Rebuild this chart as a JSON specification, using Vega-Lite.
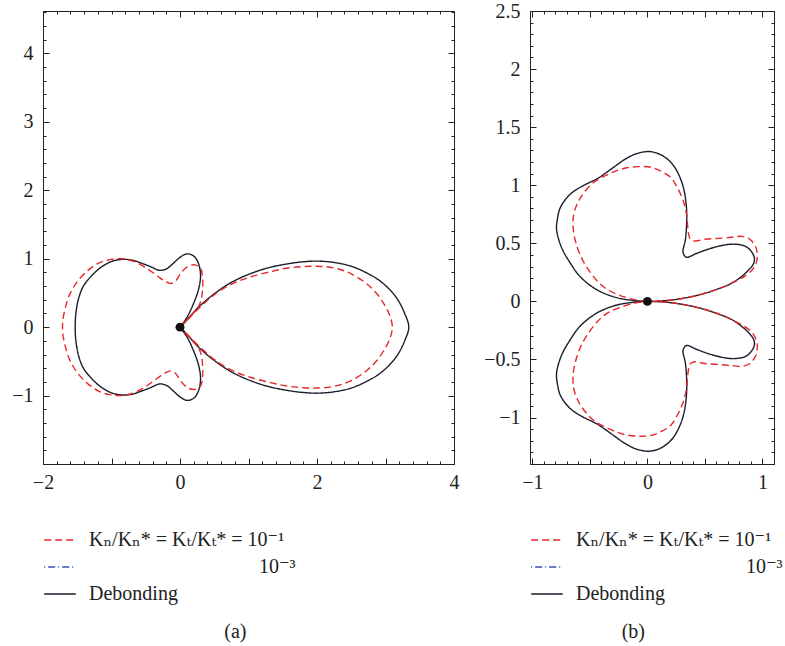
{
  "$schema": "https://vega.github.io/schema/vega-lite/v6.json",
  "background": "white",
  "padding": {"left": 11, "top": 0, "right": 0, "bottom": 0},
  "bounds": "flush",
  "spacing": 76,
  "config": {
    "view": {"stroke": "#222", "strokeWidth": 1},
    "axis": {"labelFont": "'Liberation Serif', 'DejaVu Serif', serif", "labelFontSize": 20, "labelColor": "#222", "domainColor": "#222", "tickColor": "#222", "grid": false, "labelOverlap": false, "labelFlush": false, "format": "~g"},
    "title": {"font": "'Liberation Serif', 'DejaVu Serif', serif", "fontSize": 20, "fontWeight": "normal", "color": "#222"}
  },
  "resolve": {"scale": {"color": "independent", "strokeDash": "independent"}},
  "hconcat": [
    {
      "width": 411,
      "height": 453,
      "title": {"text": "(a)", "orient": "bottom", "offset": 18, "anchor": "middle", "frame": "bounds"},
      "layer": [
        {
          "data": {"values": [
            {"case":"deb","i":0,"x":0,"y":0},{"case":"deb","i":1,"x":0.08,"y":0.08},{"case":"deb","i":2,"x":0.3,"y":0.32},{"case":"deb","i":3,"x":0.6,"y":0.56},{"case":"deb","i":4,"x":0.8,"y":0.68},{"case":"deb","i":5,"x":1.05,"y":0.79},{"case":"deb","i":6,"x":1.3,"y":0.87},{"case":"deb","i":7,"x":1.57,"y":0.925},{"case":"deb","i":8,"x":1.8,"y":0.955},{"case":"deb","i":9,"x":2.0,"y":0.965},{"case":"deb","i":10,"x":2.25,"y":0.945},{"case":"deb","i":11,"x":2.5,"y":0.89},{"case":"deb","i":12,"x":2.73,"y":0.79},{"case":"deb","i":13,"x":2.9,"y":0.69},{"case":"deb","i":14,"x":3.05,"y":0.56},{"case":"deb","i":15,"x":3.18,"y":0.4},{"case":"deb","i":16,"x":3.28,"y":0.2},{"case":"deb","i":17,"x":3.34,"y":0},
            {"case":"deb","i":18,"x":3.28,"y":-0.2},{"case":"deb","i":19,"x":3.18,"y":-0.4},{"case":"deb","i":20,"x":3.05,"y":-0.56},{"case":"deb","i":21,"x":2.9,"y":-0.69},{"case":"deb","i":22,"x":2.73,"y":-0.79},{"case":"deb","i":23,"x":2.5,"y":-0.89},{"case":"deb","i":24,"x":2.25,"y":-0.945},{"case":"deb","i":25,"x":2.0,"y":-0.965},{"case":"deb","i":26,"x":1.8,"y":-0.955},{"case":"deb","i":27,"x":1.57,"y":-0.925},{"case":"deb","i":28,"x":1.3,"y":-0.87},{"case":"deb","i":29,"x":1.05,"y":-0.79},{"case":"deb","i":30,"x":0.8,"y":-0.68},{"case":"deb","i":31,"x":0.6,"y":-0.56},{"case":"deb","i":32,"x":0.3,"y":-0.32},{"case":"deb","i":33,"x":0.08,"y":-0.08},{"case":"deb","i":34,"x":0,"y":0},
            {"case":"deb","i":35,"x":0.1,"y":-0.14},{"case":"deb","i":36,"x":0.2,"y":-0.35},{"case":"deb","i":37,"x":0.27,"y":-0.55},{"case":"deb","i":38,"x":0.3,"y":-0.75},{"case":"deb","i":39,"x":0.27,"y":-0.93},{"case":"deb","i":40,"x":0.2,"y":-1.04},{"case":"deb","i":41,"x":0.1,"y":-1.07},{"case":"deb","i":42,"x":0,"y":-1.02},{"case":"deb","i":43,"x":-0.1,"y":-0.93},{"case":"deb","i":44,"x":-0.2,"y":-0.85},{"case":"deb","i":45,"x":-0.3,"y":-0.83},{"case":"deb","i":46,"x":-0.42,"y":-0.88},{"case":"deb","i":47,"x":-0.55,"y":-0.93},{"case":"deb","i":48,"x":-0.7,"y":-0.98},{"case":"deb","i":49,"x":-0.85,"y":-0.99},{"case":"deb","i":50,"x":-1.0,"y":-0.96},{"case":"deb","i":51,"x":-1.16,"y":-0.87},{"case":"deb","i":52,"x":-1.3,"y":-0.74},{"case":"deb","i":53,"x":-1.41,"y":-0.6},{"case":"deb","i":54,"x":-1.48,"y":-0.42},{"case":"deb","i":55,"x":-1.52,"y":-0.2},{"case":"deb","i":56,"x":-1.53,"y":0},
            {"case":"deb","i":57,"x":-1.52,"y":0.2},{"case":"deb","i":58,"x":-1.48,"y":0.42},{"case":"deb","i":59,"x":-1.41,"y":0.6},{"case":"deb","i":60,"x":-1.3,"y":0.74},{"case":"deb","i":61,"x":-1.16,"y":0.87},{"case":"deb","i":62,"x":-1.0,"y":0.96},{"case":"deb","i":63,"x":-0.85,"y":0.99},{"case":"deb","i":64,"x":-0.7,"y":0.98},{"case":"deb","i":65,"x":-0.55,"y":0.93},{"case":"deb","i":66,"x":-0.42,"y":0.88},{"case":"deb","i":67,"x":-0.3,"y":0.83},{"case":"deb","i":68,"x":-0.2,"y":0.85},{"case":"deb","i":69,"x":-0.1,"y":0.93},{"case":"deb","i":70,"x":0,"y":1.02},{"case":"deb","i":71,"x":0.1,"y":1.07},{"case":"deb","i":72,"x":0.2,"y":1.04},{"case":"deb","i":73,"x":0.27,"y":0.93},{"case":"deb","i":74,"x":0.3,"y":0.75},{"case":"deb","i":75,"x":0.27,"y":0.55},{"case":"deb","i":76,"x":0.2,"y":0.35},{"case":"deb","i":77,"x":0.1,"y":0.14},{"case":"deb","i":78,"x":0,"y":0},
            {"case":"r1","i":0,"x":0,"y":0},{"case":"r1","i":1,"x":0.12,"y":0.12},{"case":"r1","i":2,"x":0.3,"y":0.3},{"case":"r1","i":3,"x":0.55,"y":0.51},{"case":"r1","i":4,"x":0.8,"y":0.65},{"case":"r1","i":5,"x":1.05,"y":0.74},{"case":"r1","i":6,"x":1.32,"y":0.81},{"case":"r1","i":7,"x":1.55,"y":0.86},{"case":"r1","i":8,"x":1.8,"y":0.885},{"case":"r1","i":9,"x":2.0,"y":0.89},{"case":"r1","i":10,"x":2.25,"y":0.865},{"case":"r1","i":11,"x":2.5,"y":0.78},{"case":"r1","i":12,"x":2.73,"y":0.63},{"case":"r1","i":13,"x":2.88,"y":0.48},{"case":"r1","i":14,"x":3.0,"y":0.3},{"case":"r1","i":15,"x":3.07,"y":0.15},{"case":"r1","i":16,"x":3.1,"y":0},
            {"case":"r1","i":17,"x":3.07,"y":-0.15},{"case":"r1","i":18,"x":3.0,"y":-0.3},{"case":"r1","i":19,"x":2.88,"y":-0.48},{"case":"r1","i":20,"x":2.73,"y":-0.63},{"case":"r1","i":21,"x":2.5,"y":-0.78},{"case":"r1","i":22,"x":2.25,"y":-0.865},{"case":"r1","i":23,"x":2.0,"y":-0.89},{"case":"r1","i":24,"x":1.8,"y":-0.885},{"case":"r1","i":25,"x":1.55,"y":-0.86},{"case":"r1","i":26,"x":1.32,"y":-0.81},{"case":"r1","i":27,"x":1.05,"y":-0.74},{"case":"r1","i":28,"x":0.8,"y":-0.65},{"case":"r1","i":29,"x":0.55,"y":-0.51},{"case":"r1","i":30,"x":0.3,"y":-0.3},{"case":"r1","i":31,"x":0.12,"y":-0.12},{"case":"r1","i":32,"x":0,"y":0},
            {"case":"r1","i":33,"x":0.12,"y":-0.13},{"case":"r1","i":34,"x":0.25,"y":-0.27},{"case":"r1","i":35,"x":0.31,"y":-0.4},{"case":"r1","i":36,"x":0.33,"y":-0.57},{"case":"r1","i":37,"x":0.33,"y":-0.73},{"case":"r1","i":38,"x":0.3,"y":-0.86},{"case":"r1","i":39,"x":0.22,"y":-0.91},{"case":"r1","i":40,"x":0.12,"y":-0.89},{"case":"r1","i":41,"x":0.02,"y":-0.8},{"case":"r1","i":42,"x":-0.06,"y":-0.68},{"case":"r1","i":43,"x":-0.13,"y":-0.64},{"case":"r1","i":44,"x":-0.22,"y":-0.67},{"case":"r1","i":45,"x":-0.32,"y":-0.74},{"case":"r1","i":46,"x":-0.43,"y":-0.82},{"case":"r1","i":47,"x":-0.55,"y":-0.9},{"case":"r1","i":48,"x":-0.7,"y":-0.97},{"case":"r1","i":49,"x":-0.85,"y":-1.0},{"case":"r1","i":50,"x":-1.01,"y":-0.99},{"case":"r1","i":51,"x":-1.18,"y":-0.94},{"case":"r1","i":52,"x":-1.33,"y":-0.84},{"case":"r1","i":53,"x":-1.48,"y":-0.69},{"case":"r1","i":54,"x":-1.6,"y":-0.5},{"case":"r1","i":55,"x":-1.67,"y":-0.3},{"case":"r1","i":56,"x":-1.71,"y":-0.1},{"case":"r1","i":57,"x":-1.715,"y":0},
            {"case":"r1","i":58,"x":-1.71,"y":0.1},{"case":"r1","i":59,"x":-1.67,"y":0.3},{"case":"r1","i":60,"x":-1.6,"y":0.5},{"case":"r1","i":61,"x":-1.48,"y":0.69},{"case":"r1","i":62,"x":-1.33,"y":0.84},{"case":"r1","i":63,"x":-1.18,"y":0.94},{"case":"r1","i":64,"x":-1.01,"y":0.99},{"case":"r1","i":65,"x":-0.85,"y":1.0},{"case":"r1","i":66,"x":-0.7,"y":0.97},{"case":"r1","i":67,"x":-0.55,"y":0.9},{"case":"r1","i":68,"x":-0.43,"y":0.82},{"case":"r1","i":69,"x":-0.32,"y":0.74},{"case":"r1","i":70,"x":-0.22,"y":0.67},{"case":"r1","i":71,"x":-0.13,"y":0.64},{"case":"r1","i":72,"x":-0.06,"y":0.68},{"case":"r1","i":73,"x":0.02,"y":0.8},{"case":"r1","i":74,"x":0.12,"y":0.89},{"case":"r1","i":75,"x":0.22,"y":0.91},{"case":"r1","i":76,"x":0.3,"y":0.86},{"case":"r1","i":77,"x":0.33,"y":0.73},{"case":"r1","i":78,"x":0.33,"y":0.57},{"case":"r1","i":79,"x":0.31,"y":0.4},{"case":"r1","i":80,"x":0.25,"y":0.27},{"case":"r1","i":81,"x":0.12,"y":0.13},{"case":"r1","i":82,"x":0,"y":0}
          ]},
          "mark": {"type": "line", "strokeWidth": 1.4, "interpolate": "catmull-rom"},
          "encoding": {
            "x": {"field": "x", "type": "quantitative", "scale": {"domain": [-2, 4], "nice": false, "zero": false},
                  "axis": {"title": null, "orient": "bottom", "values": [-2,-1.8,-1.6,-1.4,-1.2,-1,-0.8,-0.6,-0.4,-0.2,0,0.2,0.4,0.6,0.8,1,1.2,1.4,1.6,1.8,2,2.2,2.4,2.6,2.8,3,3.2,3.4,3.6,3.8,4],
                           "labelExpr": "datum.value % 2 === 0 ? datum.label : ''",
                           "tickSize": {"condition": {"test": "datum.value % 1 === 0", "value": -6}, "value": -3}, "labelPadding": 14}},
            "y": {"field": "y", "type": "quantitative", "scale": {"domain": [-2, 4.62], "nice": false, "zero": false},
                  "axis": {"title": null, "orient": "left", "values": [-1.8,-1.6,-1.4,-1.2,-1,-0.8,-0.6,-0.4,-0.2,0,0.2,0.4,0.6,0.8,1,1.2,1.4,1.6,1.8,2,2.2,2.4,2.6,2.8,3,3.2,3.4,3.6,3.8,4,4.2,4.4,4.6],
                           "labelExpr": "datum.value % 1 === 0 ? datum.label : ''",
                           "tickSize": {"condition": {"test": "datum.value % 1 === 0", "value": -6}, "value": -3}, "labelPadding": 16}},
            "order": {"field": "i", "type": "quantitative"},
            "color": {"field": "case", "type": "nominal",
                      "scale": {"domain": ["r1", "r3", "deb"], "range": ["#e8262a", "#3a4fb4", "#1b1d2b"]},
                      "legend": {"title": null, "orient": "none", "legendX": 0, "legendY": 512, "symbolType": "stroke", "symbolSize": 1000, "symbolStrokeWidth": 1.5, "labelFont": "'Liberation Serif', 'DejaVu Serif', serif", "labelFontSize": 20, "labelColor": "#222", "labelLimit": 500, "labelOffset": 12, "rowPadding": 0,
                                 "labelExpr": "datum.value === 'r1' ? 'Kₙ/Kₙ* = Kₜ/Kₜ* = 10⁻¹' : datum.value === 'r3' ? '10⁻³' : 'Debonding'",
                                 "encode": {"labels": {"update": {"dx": {"signal": "datum.value === 'r3' ? 170 : 0"}}}}}},
            "strokeDash": {"field": "case", "type": "nominal",
                      "scale": {"domain": ["r1", "r3", "deb"], "range": [[7, 4], [1, 3, 7, 3], [1, 0]]},
                      "legend": {"title": null, "orient": "none", "legendX": 0, "legendY": 512, "symbolType": "stroke", "symbolSize": 1000, "symbolStrokeWidth": 1.5, "labelFont": "'Liberation Serif', 'DejaVu Serif', serif", "labelFontSize": 20, "labelColor": "#222", "labelLimit": 500, "labelOffset": 12, "rowPadding": 0,
                                 "labelExpr": "datum.value === 'r1' ? 'Kₙ/Kₙ* = Kₜ/Kₜ* = 10⁻¹' : datum.value === 'r3' ? '10⁻³' : 'Debonding'",
                                 "encode": {"labels": {"update": {"dx": {"signal": "datum.value === 'r3' ? 170 : 0"}}}}}}
          }
        },
        {
          "data": {"values": [{"x": 0, "y": 0}]},
          "mark": {"type": "point", "filled": true, "size": 80, "color": "#111", "opacity": 1},
          "encoding": {
            "x": {"field": "x", "type": "quantitative",
                  "axis": {"title": null, "orient": "top", "labels": false, "values": [-2,-1.8,-1.6,-1.4,-1.2,-1,-0.8,-0.6,-0.4,-0.2,0,0.2,0.4,0.6,0.8,1,1.2,1.4,1.6,1.8,2,2.2,2.4,2.6,2.8,3,3.2,3.4,3.6,3.8,4],
                           "tickSize": {"condition": {"test": "datum.value % 2 === 0", "value": -6}, "value": -3}}},
            "y": {"field": "y", "type": "quantitative",
                  "axis": {"title": null, "orient": "right", "labels": false, "values": [-1.8,-1.6,-1.4,-1.2,-1,-0.8,-0.6,-0.4,-0.2,0,0.2,0.4,0.6,0.8,1,1.2,1.4,1.6,1.8,2,2.2,2.4,2.6,2.8,3,3.2,3.4,3.6,3.8,4,4.2,4.4,4.6],
                           "tickSize": {"condition": {"test": "datum.value % 1 === 0", "value": -6}, "value": -3}}}
          }
        }
      ],
      "resolve": {"axis": {"x": "independent", "y": "independent"}}
    },
    {
      "width": 244,
      "height": 453,
      "title": {"text": "(b)", "orient": "bottom", "offset": 18, "anchor": "middle", "frame": "bounds"},
      "layer": [
        {
          "data": {"values": [
            {"case":"deb","i":0,"x":0,"y":0},{"case":"deb","i":1,"x":-0.12,"y":0.008},{"case":"deb","i":2,"x":-0.26,"y":0.03},{"case":"deb","i":3,"x":-0.4,"y":0.08},{"case":"deb","i":4,"x":-0.5,"y":0.14},{"case":"deb","i":5,"x":-0.6,"y":0.23},{"case":"deb","i":6,"x":-0.67,"y":0.33},{"case":"deb","i":7,"x":-0.73,"y":0.43},{"case":"deb","i":8,"x":-0.77,"y":0.53},{"case":"deb","i":9,"x":-0.79,"y":0.63},{"case":"deb","i":10,"x":-0.78,"y":0.72},{"case":"deb","i":11,"x":-0.76,"y":0.8},{"case":"deb","i":12,"x":-0.71,"y":0.88},{"case":"deb","i":13,"x":-0.65,"y":0.94},{"case":"deb","i":14,"x":-0.55,"y":1.0},{"case":"deb","i":15,"x":-0.43,"y":1.06},{"case":"deb","i":16,"x":-0.3,"y":1.15},{"case":"deb","i":17,"x":-0.2,"y":1.22},{"case":"deb","i":18,"x":-0.1,"y":1.27},{"case":"deb","i":19,"x":0.01,"y":1.29},{"case":"deb","i":20,"x":0.1,"y":1.27},{"case":"deb","i":21,"x":0.18,"y":1.22},{"case":"deb","i":22,"x":0.24,"y":1.15},{"case":"deb","i":23,"x":0.29,"y":1.05},{"case":"deb","i":24,"x":0.32,"y":0.95},{"case":"deb","i":25,"x":0.34,"y":0.8},{"case":"deb","i":26,"x":0.34,"y":0.65},{"case":"deb","i":27,"x":0.33,"y":0.53},{"case":"deb","i":28,"x":0.31,"y":0.42},{"case":"deb","i":29,"x":0.34,"y":0.38},{"case":"deb","i":30,"x":0.42,"y":0.41},{"case":"deb","i":31,"x":0.5,"y":0.44},{"case":"deb","i":32,"x":0.6,"y":0.47},{"case":"deb","i":33,"x":0.7,"y":0.49},{"case":"deb","i":34,"x":0.79,"y":0.49},{"case":"deb","i":35,"x":0.86,"y":0.47},{"case":"deb","i":36,"x":0.91,"y":0.42},{"case":"deb","i":37,"x":0.93,"y":0.37},{"case":"deb","i":38,"x":0.92,"y":0.32},{"case":"deb","i":39,"x":0.87,"y":0.26},{"case":"deb","i":40,"x":0.8,"y":0.2},{"case":"deb","i":41,"x":0.72,"y":0.15},{"case":"deb","i":42,"x":0.62,"y":0.11},{"case":"deb","i":43,"x":0.5,"y":0.07},{"case":"deb","i":44,"x":0.38,"y":0.04},{"case":"deb","i":45,"x":0.22,"y":0.013},{"case":"deb","i":46,"x":0.1,"y":0.003},{"case":"deb","i":47,"x":0,"y":0},
            {"case":"deb","i":48,"x":-0.12,"y":-0.008},{"case":"deb","i":49,"x":-0.26,"y":-0.03},{"case":"deb","i":50,"x":-0.4,"y":-0.08},{"case":"deb","i":51,"x":-0.5,"y":-0.14},{"case":"deb","i":52,"x":-0.6,"y":-0.23},{"case":"deb","i":53,"x":-0.67,"y":-0.33},{"case":"deb","i":54,"x":-0.73,"y":-0.43},{"case":"deb","i":55,"x":-0.77,"y":-0.53},{"case":"deb","i":56,"x":-0.79,"y":-0.63},{"case":"deb","i":57,"x":-0.78,"y":-0.72},{"case":"deb","i":58,"x":-0.76,"y":-0.8},{"case":"deb","i":59,"x":-0.71,"y":-0.88},{"case":"deb","i":60,"x":-0.65,"y":-0.94},{"case":"deb","i":61,"x":-0.55,"y":-1.0},{"case":"deb","i":62,"x":-0.43,"y":-1.06},{"case":"deb","i":63,"x":-0.3,"y":-1.15},{"case":"deb","i":64,"x":-0.2,"y":-1.22},{"case":"deb","i":65,"x":-0.1,"y":-1.27},{"case":"deb","i":66,"x":0.01,"y":-1.29},{"case":"deb","i":67,"x":0.1,"y":-1.27},{"case":"deb","i":68,"x":0.18,"y":-1.22},{"case":"deb","i":69,"x":0.24,"y":-1.15},{"case":"deb","i":70,"x":0.29,"y":-1.05},{"case":"deb","i":71,"x":0.32,"y":-0.95},{"case":"deb","i":72,"x":0.34,"y":-0.8},{"case":"deb","i":73,"x":0.34,"y":-0.65},{"case":"deb","i":74,"x":0.33,"y":-0.53},{"case":"deb","i":75,"x":0.31,"y":-0.42},{"case":"deb","i":76,"x":0.34,"y":-0.38},{"case":"deb","i":77,"x":0.42,"y":-0.41},{"case":"deb","i":78,"x":0.5,"y":-0.44},{"case":"deb","i":79,"x":0.6,"y":-0.47},{"case":"deb","i":80,"x":0.7,"y":-0.49},{"case":"deb","i":81,"x":0.79,"y":-0.49},{"case":"deb","i":82,"x":0.86,"y":-0.47},{"case":"deb","i":83,"x":0.91,"y":-0.42},{"case":"deb","i":84,"x":0.93,"y":-0.37},{"case":"deb","i":85,"x":0.92,"y":-0.32},{"case":"deb","i":86,"x":0.87,"y":-0.26},{"case":"deb","i":87,"x":0.8,"y":-0.2},{"case":"deb","i":88,"x":0.72,"y":-0.15},{"case":"deb","i":89,"x":0.62,"y":-0.11},{"case":"deb","i":90,"x":0.5,"y":-0.07},{"case":"deb","i":91,"x":0.38,"y":-0.04},{"case":"deb","i":92,"x":0.22,"y":-0.013},{"case":"deb","i":93,"x":0.1,"y":-0.003},{"case":"deb","i":94,"x":0,"y":0},
            {"case":"r1","i":0,"x":0,"y":0},{"case":"r1","i":1,"x":-0.11,"y":0.015},{"case":"r1","i":2,"x":-0.26,"y":0.06},{"case":"r1","i":3,"x":-0.36,"y":0.11},{"case":"r1","i":4,"x":-0.44,"y":0.18},{"case":"r1","i":5,"x":-0.51,"y":0.27},{"case":"r1","i":6,"x":-0.57,"y":0.37},{"case":"r1","i":7,"x":-0.62,"y":0.5},{"case":"r1","i":8,"x":-0.645,"y":0.63},{"case":"r1","i":9,"x":-0.64,"y":0.75},{"case":"r1","i":10,"x":-0.6,"y":0.86},{"case":"r1","i":11,"x":-0.54,"y":0.95},{"case":"r1","i":12,"x":-0.46,"y":1.03},{"case":"r1","i":13,"x":-0.37,"y":1.08},{"case":"r1","i":14,"x":-0.28,"y":1.12},{"case":"r1","i":15,"x":-0.18,"y":1.15},{"case":"r1","i":16,"x":-0.08,"y":1.16},{"case":"r1","i":17,"x":0.03,"y":1.155},{"case":"r1","i":18,"x":0.12,"y":1.12},{"case":"r1","i":19,"x":0.2,"y":1.07},{"case":"r1","i":20,"x":0.26,"y":0.98},{"case":"r1","i":21,"x":0.31,"y":0.87},{"case":"r1","i":22,"x":0.34,"y":0.75},{"case":"r1","i":23,"x":0.355,"y":0.6},{"case":"r1","i":24,"x":0.37,"y":0.54},{"case":"r1","i":25,"x":0.41,"y":0.52},{"case":"r1","i":26,"x":0.5,"y":0.535},{"case":"r1","i":27,"x":0.65,"y":0.545},{"case":"r1","i":28,"x":0.75,"y":0.555},{"case":"r1","i":29,"x":0.82,"y":0.56},{"case":"r1","i":30,"x":0.89,"y":0.535},{"case":"r1","i":31,"x":0.94,"y":0.47},{"case":"r1","i":32,"x":0.955,"y":0.4},{"case":"r1","i":33,"x":0.945,"y":0.33},{"case":"r1","i":34,"x":0.91,"y":0.27},{"case":"r1","i":35,"x":0.85,"y":0.22},{"case":"r1","i":36,"x":0.76,"y":0.17},{"case":"r1","i":37,"x":0.65,"y":0.12},{"case":"r1","i":38,"x":0.5,"y":0.07},{"case":"r1","i":39,"x":0.38,"y":0.04},{"case":"r1","i":40,"x":0.22,"y":0.013},{"case":"r1","i":41,"x":0.1,"y":0.003},{"case":"r1","i":42,"x":0,"y":0},
            {"case":"r1","i":43,"x":-0.11,"y":-0.015},{"case":"r1","i":44,"x":-0.26,"y":-0.06},{"case":"r1","i":45,"x":-0.36,"y":-0.11},{"case":"r1","i":46,"x":-0.44,"y":-0.18},{"case":"r1","i":47,"x":-0.51,"y":-0.27},{"case":"r1","i":48,"x":-0.57,"y":-0.37},{"case":"r1","i":49,"x":-0.62,"y":-0.5},{"case":"r1","i":50,"x":-0.645,"y":-0.63},{"case":"r1","i":51,"x":-0.64,"y":-0.75},{"case":"r1","i":52,"x":-0.6,"y":-0.86},{"case":"r1","i":53,"x":-0.54,"y":-0.95},{"case":"r1","i":54,"x":-0.46,"y":-1.03},{"case":"r1","i":55,"x":-0.37,"y":-1.08},{"case":"r1","i":56,"x":-0.28,"y":-1.12},{"case":"r1","i":57,"x":-0.18,"y":-1.15},{"case":"r1","i":58,"x":-0.08,"y":-1.16},{"case":"r1","i":59,"x":0.03,"y":-1.155},{"case":"r1","i":60,"x":0.12,"y":-1.12},{"case":"r1","i":61,"x":0.2,"y":-1.07},{"case":"r1","i":62,"x":0.26,"y":-0.98},{"case":"r1","i":63,"x":0.31,"y":-0.87},{"case":"r1","i":64,"x":0.34,"y":-0.75},{"case":"r1","i":65,"x":0.355,"y":-0.6},{"case":"r1","i":66,"x":0.37,"y":-0.54},{"case":"r1","i":67,"x":0.41,"y":-0.52},{"case":"r1","i":68,"x":0.5,"y":-0.535},{"case":"r1","i":69,"x":0.65,"y":-0.545},{"case":"r1","i":70,"x":0.75,"y":-0.555},{"case":"r1","i":71,"x":0.82,"y":-0.56},{"case":"r1","i":72,"x":0.89,"y":-0.535},{"case":"r1","i":73,"x":0.94,"y":-0.47},{"case":"r1","i":74,"x":0.955,"y":-0.4},{"case":"r1","i":75,"x":0.945,"y":-0.33},{"case":"r1","i":76,"x":0.91,"y":-0.27},{"case":"r1","i":77,"x":0.85,"y":-0.22},{"case":"r1","i":78,"x":0.76,"y":-0.17},{"case":"r1","i":79,"x":0.65,"y":-0.12},{"case":"r1","i":80,"x":0.5,"y":-0.07},{"case":"r1","i":81,"x":0.38,"y":-0.04},{"case":"r1","i":82,"x":0.22,"y":-0.013},{"case":"r1","i":83,"x":0.1,"y":-0.003},{"case":"r1","i":84,"x":0,"y":0}
          ]},
          "mark": {"type": "line", "strokeWidth": 1.4, "interpolate": "catmull-rom"},
          "encoding": {
            "x": {"field": "x", "type": "quantitative", "scale": {"domain": [-1.02, 1.1], "nice": false, "zero": false},
                  "axis": {"title": null, "orient": "bottom", "values": [-1,-0.9,-0.8,-0.7,-0.6,-0.5,-0.4,-0.3,-0.2,-0.1,0,0.1,0.2,0.3,0.4,0.5,0.6,0.7,0.8,0.9,1,1.1],
                           "labelExpr": "datum.value % 1 === 0 ? datum.label : ''",
                           "tickSize": {"condition": {"test": "abs(datum.value*2 - round(datum.value*2)) < 1e-6", "value": -6}, "value": -3}, "labelPadding": 14}},
            "y": {"field": "y", "type": "quantitative", "scale": {"domain": [-1.4, 2.5], "nice": false, "zero": false},
                  "axis": {"title": null, "orient": "left", "values": [-1.3,-1.2,-1.1,-1,-0.9,-0.8,-0.7,-0.6,-0.5,-0.4,-0.3,-0.2,-0.1,0,0.1,0.2,0.3,0.4,0.5,0.6,0.7,0.8,0.9,1,1.1,1.2,1.3,1.4,1.5,1.6,1.7,1.8,1.9,2,2.1,2.2,2.3,2.4,2.5],
                           "labelExpr": "abs(datum.value*2 - round(datum.value*2)) < 1e-6 ? datum.label : ''",
                           "tickSize": {"condition": {"test": "abs(datum.value*2 - round(datum.value*2)) < 1e-6", "value": -6}, "value": -3}, "labelPadding": 16}},
            "order": {"field": "i", "type": "quantitative"},
            "color": {"field": "case", "type": "nominal",
                      "scale": {"domain": ["r1", "r3", "deb"], "range": ["#e8262a", "#3a4fb4", "#1b1d2b"]},
                      "legend": {"title": null, "orient": "none", "legendX": 0, "legendY": 512, "symbolType": "stroke", "symbolSize": 1000, "symbolStrokeWidth": 1.5, "labelFont": "'Liberation Serif', 'DejaVu Serif', serif", "labelFontSize": 20, "labelColor": "#222", "labelLimit": 500, "labelOffset": 12, "rowPadding": 0,
                                 "labelExpr": "datum.value === 'r1' ? 'Kₙ/Kₙ* = Kₜ/Kₜ* = 10⁻¹' : datum.value === 'r3' ? '10⁻³' : 'Debonding'",
                                 "encode": {"labels": {"update": {"dx": {"signal": "datum.value === 'r3' ? 170 : 0"}}}}}},
            "strokeDash": {"field": "case", "type": "nominal",
                      "scale": {"domain": ["r1", "r3", "deb"], "range": [[7, 4], [1, 3, 7, 3], [1, 0]]},
                      "legend": {"title": null, "orient": "none", "legendX": 0, "legendY": 512, "symbolType": "stroke", "symbolSize": 1000, "symbolStrokeWidth": 1.5, "labelFont": "'Liberation Serif', 'DejaVu Serif', serif", "labelFontSize": 20, "labelColor": "#222", "labelLimit": 500, "labelOffset": 12, "rowPadding": 0,
                                 "labelExpr": "datum.value === 'r1' ? 'Kₙ/Kₙ* = Kₜ/Kₜ* = 10⁻¹' : datum.value === 'r3' ? '10⁻³' : 'Debonding'",
                                 "encode": {"labels": {"update": {"dx": {"signal": "datum.value === 'r3' ? 170 : 0"}}}}}}
          }
        },
        {
          "data": {"values": [{"x": 0, "y": 0}]},
          "mark": {"type": "point", "filled": true, "size": 80, "color": "#111", "opacity": 1},
          "encoding": {
            "x": {"field": "x", "type": "quantitative",
                  "axis": {"title": null, "orient": "top", "labels": false, "values": [-1,-0.9,-0.8,-0.7,-0.6,-0.5,-0.4,-0.3,-0.2,-0.1,0,0.1,0.2,0.3,0.4,0.5,0.6,0.7,0.8,0.9,1,1.1],
                           "tickSize": {"condition": {"test": "abs(datum.value*2 - round(datum.value*2)) < 1e-6", "value": -6}, "value": -3}}},
            "y": {"field": "y", "type": "quantitative",
                  "axis": {"title": null, "orient": "right", "labels": false, "values": [-1.3,-1.2,-1.1,-1,-0.9,-0.8,-0.7,-0.6,-0.5,-0.4,-0.3,-0.2,-0.1,0,0.1,0.2,0.3,0.4,0.5,0.6,0.7,0.8,0.9,1,1.1,1.2,1.3,1.4,1.5,1.6,1.7,1.8,1.9,2,2.1,2.2,2.3,2.4,2.5],
                           "tickSize": {"condition": {"test": "abs(datum.value*2 - round(datum.value*2)) < 1e-6", "value": -6}, "value": -3}}}
          }
        }
      ],
      "resolve": {"axis": {"x": "independent", "y": "independent"}}
    }
  ]
}
